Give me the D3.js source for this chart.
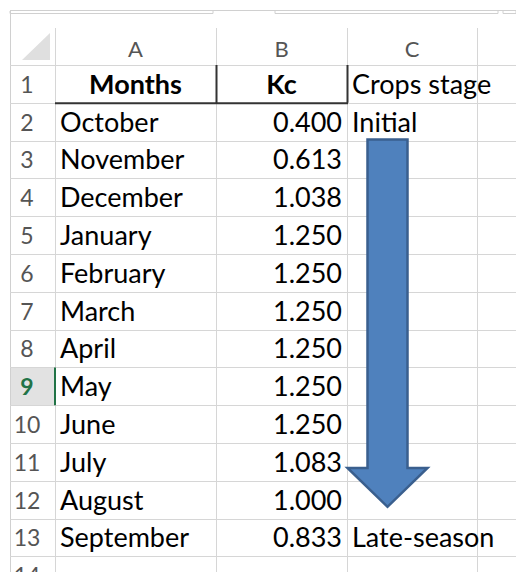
<!DOCTYPE html>
<meta charset='utf-8'>
<title>Kc by month</title>
<style>
body {
  margin: 0;
  background-color: #fff;
}
text {
  font-family: Lato, "Open Sans", sans-serif;
}
</style>
<svg width="516" height="572"></svg>
<script src="https://d3js.org/d3.v7.min.js"></script>
<script>

// sheet contents
var columns = ["A", "B", "C"];
var headers = ["Months", "Kc", "Crops stage"];
var months = ["October", "November", "December", "January", "February", "March",
              "April", "May", "June", "July", "August", "September"];
var kc = [0.400, 0.613, 1.038, 1.250, 1.250, 1.250, 1.250, 1.250, 1.250, 1.083, 1.000, 0.833];
var stages = ["Initial", "", "", "", "", "", "", "", "", "", "", "Late-season"];
var activeRow = 9;

var svg = d3.select("svg");
var W = 516, H = 572;

// sheet geometry
var left = 10, headTop = 28, firstRow = 65, rowH = 37.8;
var colEdges = [55, 216, 347, 477, 600];
var nRows = 14;
var fs = 27;

// row number -> top of row
var y = d3.scaleLinear().domain([1, 2]).range([firstRow, firstRow + rowH]);
var x = d3.scaleOrdinal().domain(columns.concat(["D"])).range(colEdges.slice(0, 4));
function colW(c) { var i = columns.indexOf(c); return colEdges[i + 1] - colEdges[i]; }

var grid = "#d6d6d6";
var fmt = d3.format(".3f");

// top frame lines (formula bar edge)
svg.append("line").attr("x1", left).attr("x2", W).attr("y1", 10.5).attr("y2", 10.5)
    .attr("stroke", "#d0d0d0");
[[left, 213], [275, 498], [503, W]].forEach(function(s) {
  svg.append("path")
      .attr("d", "M" + s[0] + ",11V13.5H" + s[1] + "V11")
      .attr("fill", "none").attr("stroke", "#d0d0d0");
});
svg.append("line").attr("x1", left + 0.5).attr("x2", left + 0.5).attr("y1", 10).attr("y2", H)
    .attr("stroke", "#d0d0d0");

// select-all triangle
svg.append("path")
    .attr("d", "M22,60L50,60L50,33Z")
    .attr("fill", "#dfdfdf");

// active row header background
svg.append("rect")
    .attr("x", left + 1).attr("y", y(activeRow))
    .attr("width", colEdges[0] - left - 1).attr("height", rowH)
    .attr("fill", "#e2e2e2");

// horizontal gridlines
var rowLines = d3.range(1, nRows + 1);
svg.selectAll("line.h")
    .data(rowLines)
  .enter().append("line")
    .attr("class", "h")
    .attr("x1", left).attr("x2", W)
    .attr("y1", function(d) { return Math.round(y(d)) + 0.5; })
    .attr("y2", function(d) { return Math.round(y(d)) + 0.5; })
    .attr("stroke", grid);

// vertical gridlines
svg.selectAll("line.v")
    .data(colEdges.slice(0, 4))
  .enter().append("line")
    .attr("class", "v")
    .attr("x1", function(d) { return d + 0.5; })
    .attr("x2", function(d) { return d + 0.5; })
    .attr("y1", headTop).attr("y2", H)
    .attr("stroke", grid);

// active row marker
svg.append("line")
    .attr("x1", colEdges[0]).attr("x2", colEdges[0])
    .attr("y1", y(activeRow)).attr("y2", y(activeRow + 1))
    .attr("stroke", "#217346").attr("stroke-width", 2);

// column letters
svg.selectAll("text.col")
    .data(columns)
  .enter().append("text")
    .attr("class", "col")
    .attr("x", function(d) { return x(d) + colW(d) / 2; })
    .attr("y", 57)
    .attr("text-anchor", "middle")
    .attr("font-size", 22)
    .attr("fill", "#555")
    .text(function(d) { return d; });

// row numbers
svg.selectAll("text.row")
    .data(rowLines)
  .enter().append("text")
    .attr("class", "row")
    .attr("x", 27)
    .attr("y", function(d) { return y(d) + rowH - 10; })
    .attr("text-anchor", "middle")
    .attr("font-size", 23)
    .attr("font-weight", function(d) { return d === activeRow ? "bold" : "normal"; })
    .attr("fill", function(d) { return d === activeRow ? "#217346" : "#555"; })
    .text(function(d) { return d; });

// header row
var base = function(r) { return y(r) + rowH - 9; };
svg.append("text").attr("x", x("A") + colW("A") / 2).attr("y", base(1))
    .attr("text-anchor", "middle").attr("font-weight", "bold").attr("font-size", fs)
    .text(headers[0]);
svg.append("text").attr("x", x("B") + colW("B") / 2).attr("y", base(1))
    .attr("text-anchor", "middle").attr("font-weight", "bold").attr("font-size", fs)
    .text(headers[1]);
svg.append("text").attr("x", x("C") + 5).attr("y", base(1))
    .attr("font-size", fs)
    .text(headers[2]);

// header borders
svg.append("path")
    .attr("d", "M" + colEdges[0] + "," + (y(2) + 0.5) + "H" + (colEdges[2] + 1)
        + "M" + (colEdges[1] + 0.5) + "," + y(1) + "V" + y(2)
        + "M" + (colEdges[2] + 0.5) + "," + y(1) + "V" + y(2))
    .attr("fill", "none").attr("stroke", "#333").attr("stroke-width", 2);

// data cells
var rows = months.map(function(m, i) { return { r: i + 2, month: m, kc: kc[i], stage: stages[i] }; });

svg.selectAll("text.month")
    .data(rows)
  .enter().append("text")
    .attr("class", "month")
    .attr("x", x("A") + 5)
    .attr("y", function(d) { return base(d.r); })
    .attr("font-size", fs)
    .text(function(d) { return d.month; });

svg.selectAll("text.kc")
    .data(rows)
  .enter().append("text")
    .attr("class", "kc")
    .attr("x", x("B") + colW("B") - 5)
    .attr("y", function(d) { return base(d.r); })
    .attr("text-anchor", "end")
    .attr("font-size", fs)
    .text(function(d) { return fmt(d.kc); });

svg.selectAll("text.stage")
    .data(rows.filter(function(d) { return d.stage; }))
  .enter().append("text")
    .attr("class", "stage")
    .attr("x", x("C") + 5)
    .attr("y", function(d) { return base(d.r); })
    .attr("font-size", fs)
    .text(function(d) { return d.stage; });

// arrow from the first stage to the last
var cx = x("C") + 40.5;
var arrowTop = y(3) - 1, headY = y(11) + 25, tipY = y(12) + 26;
svg.append("path")
    .attr("d", "M" + (cx - 20) + "," + arrowTop + "H" + (cx + 20) + "V" + headY
        + "H" + (cx + 40) + "L" + cx + "," + tipY + "L" + (cx - 40) + "," + headY
        + "H" + (cx - 20) + "Z")
    .attr("fill", "#4f81bd")
    .attr("stroke", "#3a5f8e")
    .attr("stroke-width", 2.5)
    .attr("stroke-linejoin", "miter");

</script>
